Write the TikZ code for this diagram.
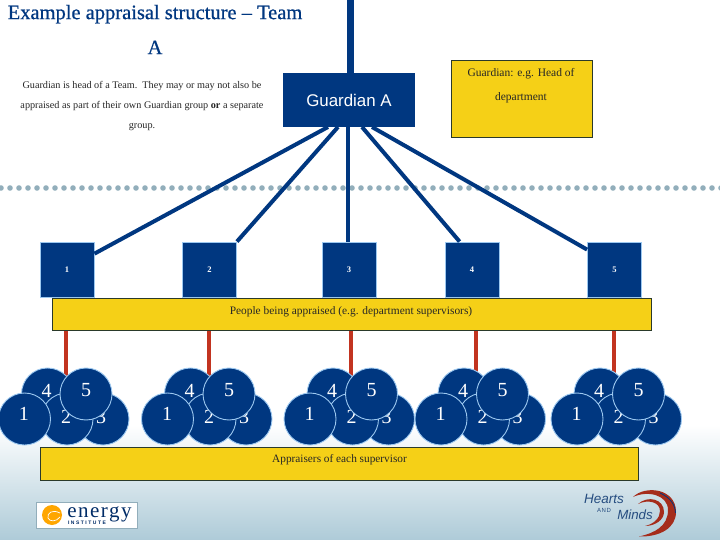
\documentclass[tikz,border=0pt]{standalone}
\usepackage{fontspec}
\setmainfont{Liberation Serif}
\newfontfamily\arialf{Liberation Sans}
\newfontfamily\logosans{Liberation Sans}
\newfontfamily\titlef[FakeBold=0.6]{Liberation Serif}
\definecolor{navy}{HTML}{003780}
\definecolor{gold}{HTML}{F5D017}
\definecolor{edgedark}{HTML}{2A3A2A}
\definecolor{edgelight}{HTML}{9CC8F0}
\definecolor{dotgrey}{HTML}{92AEBB}
\definecolor{redline}{HTML}{C23420}
\definecolor{bgblue}{HTML}{AECBD8}
\tikzset{
  x=1pt,y=-1pt,
  goldbox/.style={draw=edgedark,line width=0.9pt,fill=gold,inner sep=0pt,anchor=north west},
  supbox/.style={draw=edgelight,line width=0.9pt,fill=navy,inner sep=0pt,minimum width=54pt,minimum height=55pt,text=white,font=\fontsize{8.5}{9}\selectfont\bfseries},
  circ/.style={circle,draw=edgelight,line width=0.9pt,fill=navy,inner sep=0pt,minimum size=52pt,text=white},
  digit/.style={text=white,font=\fontsize{20}{20}\selectfont,inner sep=0pt},
  bodyt/.style={font=\fontsize{10.2}{20}\selectfont,text=black!85,inner sep=0pt,align=center},
  spoke/.style={draw=navy,line width=4pt},
  redlink/.style={draw=redline,line width=3.6pt},
}
\begin{document}
\begin{tikzpicture}
\useasboundingbox (0,0) rectangle (720,540);
\fill[white] (0,0) rectangle (720,425);
\shade[top color=white,bottom color=bgblue] (0,425) rectangle (720,540);
% dotted rule
\draw[dotgrey,line width=5.6pt,line cap=round,dash pattern=on 0pt off 9pt] (1,188) -- (726,188);
% title and text
\node[font=\titlef\fontsize{20.5}{35}\selectfont,text=navy,align=center,inner sep=0pt] (title) at (155,29.5)
  {Example appraisal structure – Team\\A};
\node[bodyt] (intro) at (142,106.5) {Guardian is head of a Team.\ \ They may or may not also be\\appraised as part of their own Guardian group \textbf{or} a separate\\group.};
% boxes
\node[fill=navy,inner sep=0pt,minimum width=132pt,minimum height=54pt,text=white,font=\arialf\fontsize{16.9}{17}\selectfont] (g) at (349,100) {Guardian A};
\node[goldbox,minimum width=141pt,minimum height=77pt] (gnote) at (451,60) {};
\node[font=\fontsize{11.5}{24}\selectfont,text=black!85,align=center,inner sep=0pt] (gnotet) at (521,85.5) {Guardian: e.g. Head of\\department};
\coordinate (top) at (350.5,0);
\draw[draw=navy,line width=6.5pt] (top) -- (top |- g.north);
\node[supbox] (s1) at (67,269.5) {1};
\node[supbox] (s2) at (209.5,269.5) {2};
\node[supbox] (s3) at (349,269.5) {3};
\node[supbox] (s4) at (472,269.5) {4};
\node[supbox] (s5) at (614.5,269.5) {5};
\coordinate (o1) at (328,127);
\coordinate (o2) at (338,127);
\coordinate (o3) at (348,127);
\coordinate (o4) at (362,127);
\coordinate (o5) at (372,127);
\draw[spoke] (o1) -- (s1.30);
\draw[spoke] (o2) -- (s2.north east);
\draw[spoke] (o3) -- (o3 |- s3.north);
\draw[spoke] (o4) -- (s4.114);
\draw[spoke] (o5) -- (s5.144);
\node[goldbox,minimum width=599pt,minimum height=32pt,anchor=north west] (people) at (51.5,298) {};
\node[font=\fontsize{11.4}{12}\selectfont,text=black!85,inner sep=0pt] (peoplet) at (351,312) {People being appraised (e.g. department supervisors)};
% appraiser groups
\foreach \g/\o/\r in {1/0/66,2/143/209,3/285.5/351,4/416.5/476,5/552.5/614}{
  \coordinate (rt\g) at (\r,378);
  \draw[redlink] (rt\g |- people.south) -- (rt\g);
  \node[circ,label={[digit,xshift=-1pt,yshift=3.5pt]center:4}] (c\g-4) at (47.5+\o,394) {};
  \node[circ,label={[digit,xshift=-2pt,yshift=2pt]center:3}] (c\g-3) at (103+\o,419) {};
  \node[circ,label={[digit,xshift=-1pt,yshift=2pt]center:2}] (c\g-2) at (67+\o,419) {};
  \node[circ,label={[digit,xshift=-0.5pt,yshift=5pt]center:1}] (c\g-1) at (24.5+\o,419) {};
  \node[circ,label={[digit,yshift=3.5pt]center:5}] (c\g-5) at (86+\o,394) {};
}
\node[goldbox,minimum width=598.5pt,minimum height=33pt] (appr) at (39.5,447) {};
\node[font=\fontsize{11.3}{12}\selectfont,text=black!85,inner sep=0pt] (apprt) at (339.5,460) {Appraisers of each supervisor};
% energy institute logo
\node[draw=dotgrey,line width=0.7pt,fill=white,inner sep=0pt,minimum width=101pt,minimum height=26pt,anchor=north west] (elogo) at (36,502) {};
\fill[orange!70!yellow] (52,515) circle (10);
\draw[white,line width=0.7pt] (60,513) .. controls (52,509) and (47,513) .. (48,518) .. controls (50,522) and (56,522) .. (60,517);
\node[font=\fontsize{21}{21}\selectfont,text=navy!80!black,inner sep=0pt] (etext) at (99.5,514) {\addfontfeature{LetterSpace=7}energy};
\node[font=\logosans\fontsize{5}{5}\selectfont\bfseries,text=navy!80!black,inner sep=0pt] (itext) at (87,522.5) {\addfontfeature{LetterSpace=30}INSTITUTE};
% hearts and minds logo
\fill[redline!85!black] (633,497) .. controls (645,485) and (676,488) .. (676,512) .. controls (676,528) and (660,537) .. (639,536.5) .. controls (655,533) and (668,526) .. (668,510) .. controls (668,495) and (648,490) .. (633,497) -- cycle;
\draw[navy,line width=0.8pt] (660,493) .. controls (671,498) and (675,505) .. (675.5,513);
\fill[redline!85!black] (638,504) .. controls (648,495) and (664,499) .. (664,512) .. controls (664,520) and (655,526) .. (645,526) .. controls (654,524) and (660,518) .. (660,511) .. controls (660,502) and (648,499) .. (638,504) -- cycle;
\node[font=\logosans\itshape\fontsize{13.5}{14}\selectfont,text=navy!70!gray,inner sep=0pt] (hearts) at (604,499) {Hearts};
\node[font=\logosans\fontsize{6}{6}\selectfont,text=navy!70!gray,inner sep=0pt] (hand) at (604,510) {\addfontfeature{LetterSpace=10}AND};
\node[font=\logosans\itshape\fontsize{13.3}{14}\selectfont,text=navy!70!gray,inner sep=0pt] (minds) at (635,514.5) {Minds};
\end{tikzpicture}
\end{document}
